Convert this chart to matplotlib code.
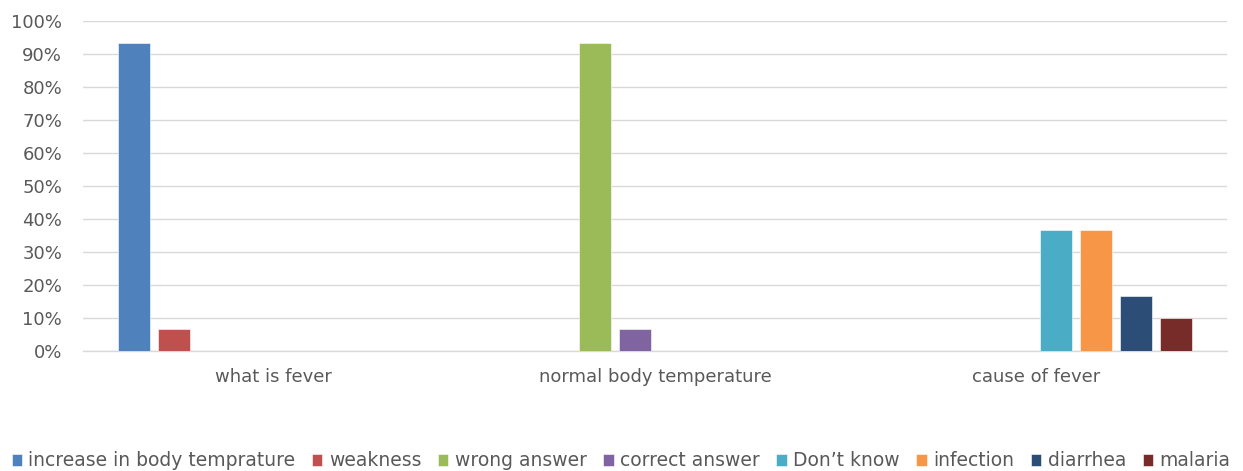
import matplotlib
matplotlib.use("Agg")
import matplotlib.pyplot as plt
import numpy as np
from matplotlib.ticker import PercentFormatter

categories = ["what is fever", "normal body temperature", "cause of fever"]
series_names = ["increase in body temprature", "weakness", "wrong answer", "correct answer",
                "Don\u2019t know", "infection", "diarrhea", "malaria"]
increase_in_body_temprature = [93.3, 0, 0]
weakness = [6.7, 0, 0]
wrong_answer = [0, 93.3, 0]
correct_answer = [0, 6.7, 0]
dont_know = [0, 0, 36.7]
infection = [0, 0, 36.7]
diarrhea = [0, 0, 16.7]
malaria = [0, 0, 10.0]
series_values = [increase_in_body_temprature, weakness, wrong_answer, correct_answer,
                 dont_know, infection, diarrhea, malaria]
colors = ["#4F81BD", "#C0504D", "#9BBB59", "#8064A2", "#4BACC6", "#F79646", "#2C4D75", "#772C2A"]

plt.rcParams['font.family'] = ['DejaVu Sans']
gray = "#595959"

fig = plt.figure(figsize=(12.43, 4.71), dpi=100)
ax = fig.add_axes([83/1243, 120/471, 1144/1243, 330/471])

n = len(series_names)
slot = 0.105
barw = slot * 0.8
x = np.arange(len(categories))
for i, (name, vals, c) in enumerate(zip(series_names, series_values, colors)):
    offs = (i - (n - 1) / 2) * slot
    ax.bar(x + offs, vals, width=barw, color=c, label=name, edgecolor="white", linewidth=0.4, zorder=3)

ax.set_xlim(-0.5, len(categories) - 0.5)
ax.set_ylim(0, 100)
ax.set_yticks(np.arange(0, 101, 10))
ax.yaxis.set_major_formatter(PercentFormatter(decimals=0))
ax.set_xticks(x)
ax.set_xticklabels(categories)
ax.grid(axis="y", color="#D9D9D9", linewidth=1, zorder=0)
for s in ["top", "right", "left"]:
    ax.spines[s].set_visible(False)
ax.spines["bottom"].set_color("#D9D9D9")
ax.spines["bottom"].set_linewidth(1)
ax.tick_params(axis="both", length=0, colors=gray, labelsize=13)
ax.tick_params(axis="y", pad=15)
ax.tick_params(axis="x", pad=12)

fig.legend(loc="center", bbox_to_anchor=(621/1243, 10/471), ncol=8, frameon=False,
           fontsize=13.5, labelcolor=gray, handlelength=0.55, handleheight=0.55,
           handletextpad=0.35, columnspacing=0.88, borderaxespad=0)

fig.savefig("out.png", dpi=100)
